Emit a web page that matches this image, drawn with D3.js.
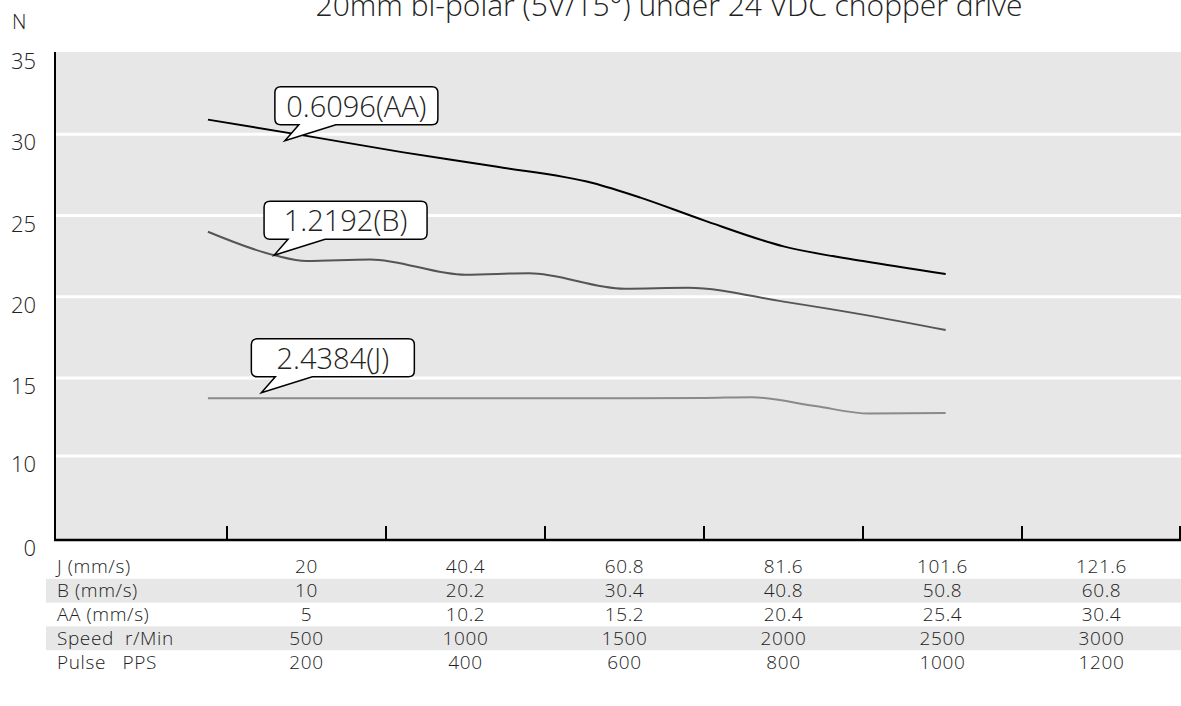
<!DOCTYPE html>
<html>
<head>
<meta charset="utf-8">
<script src="https://cdn.jsdelivr.net/npm/d3@7"></script>
<style>
  body { margin: 0; background: #fff; }
  text { font-family: "Open Sans", "Noto Sans", sans-serif; font-weight: 300; fill: #222; }
</style>
</head>
<body>
<div id="chart"></div>
<script>
const title = "20mm bi-polar (5V/15°) under 24 VDC chopper drive"
const yTicks = [0, 10, 15, 20, 25, 30, 35]

// table under the chart
const speedCols = [500, 1000, 1500, 2000, 2500, 3000]
const rowLabels = ["J (mm/s)", "B (mm/s)", "AA (mm/s)", "Speed  r/Min", "Pulse   PPS"]
const jRow = ["20", "40.4", "60.8", "81.6", "101.6", "121.6"]
const bRow = ["10", "20.2", "30.4", "40.8", "50.8", "60.8"]
const aaRow = ["5", "10.2", "15.2", "20.4", "25.4", "30.4"]
const speedRow = ["500", "1000", "1500", "2000", "2500", "3000"]
const pulseRow = ["200", "400", "600", "800", "1000", "1200"]

// curves (speed r/min -> force N)
const aaSpeed = [190, 500, 800, 1100, 1400, 1550, 1750, 2000, 2250, 2510]
const aaForce = [30.9, 29.9, 28.9, 28.0, 27.0, 26.1, 24.7, 23.1, 22.2, 21.4]
const bSpeed = [190, 400, 500, 700, 1000, 1200, 1500, 1700, 2000, 2250, 2510]
const bForce = [24.0, 22.55, 22.2, 22.3, 21.35, 21.45, 20.5, 20.55, 19.7, 18.9, 17.95]
const jSpeed = [190, 1000, 1500, 1750, 1900, 2100, 2270, 2510]
const jForce = [13.7, 13.7, 13.7, 13.72, 13.77, 13.2, 12.72, 12.76]

const seriesNames = ["0.6096(AA)", "1.2192(B)", "2.4384(J)"]
const seriesColors = ["#000000", "#555555", "#8a8a8a"]
// where each callout tail points (speed, force)
const calloutSpeed = [432, 398, 358]
const calloutForce = [29.6, 22.55, 14.05]

const width = 1181
const height = 706
const margin = { top: 52, bottom: 167, left: 55, right: 0 }

const svg = d3.select("#chart").append("svg").attr("width", width).attr("height", height)

// broken y axis: 0-10 squeezed into one step
const y = d3.scaleLinear().domain([0, 10, 15, 35]).range([540, 456, 378, 53])
const xBand = d3.scaleBand().domain(speedCols).range([227, width])
const x = d3.scaleLinear().domain([500, 3000])
    .range([xBand(500) + xBand.bandwidth() / 2, xBand(3000) + xBand.bandwidth() / 2])

svg.append("rect")
    .attr("x", margin.left).attr("y", margin.top)
    .attr("width", width - margin.left).attr("height", 540 - margin.top)
    .attr("fill", "#e7e7e7")

const grid = svg.append("g").attr("id", "grid")
grid.selectAll("line").data(yTicks.filter(d => d > 0 && d < 35)).enter().append("line")
    .attr("x1", margin.left).attr("x2", width)
    .attr("y1", d => y(d)).attr("y2", d => y(d))
    .attr("stroke", "#fff").attr("stroke-width", 3)

const yLabels = svg.append("g").attr("id", "yLabels")
yLabels.selectAll("text").data(yTicks).enter().append("text")
    .attr("x", 36).attr("y", d => y(d) + 16)
    .attr("text-anchor", "end").attr("font-size", 22)
    .text(d => d)

svg.append("text").attr("x", 12).attr("y", 29).attr("font-size", 20).text("N")
svg.append("text").attr("x", 669).attr("y", 16).attr("text-anchor", "middle")
    .attr("font-size", 30).text(title)

// axes
const axes = svg.append("g").attr("id", "axes")
axes.append("line").attr("x1", margin.left).attr("x2", margin.left)
    .attr("y1", margin.top).attr("y2", 540).attr("stroke", "#000").attr("stroke-width", 2)
axes.append("line").attr("x1", margin.left - 1).attr("x2", width)
    .attr("y1", 540).attr("y2", 540).attr("stroke", "#000").attr("stroke-width", 2.5)
const tickPos = speedCols.map(d => xBand(d)).concat([xBand(3000) + xBand.bandwidth() - 1])
axes.selectAll(".tick").data(tickPos).enter().append("line")
    .attr("class", "tick")
    .attr("x1", d => d).attr("x2", d => d)
    .attr("y1", 540).attr("y2", 526)
    .attr("stroke", "#000").attr("stroke-width", 2)

// curves
const line = d3.line().x(d => x(d[0])).y(d => y(d[1])).curve(d3.curveMonotoneX)
const series = [
    d3.zip(aaSpeed, aaForce),
    d3.zip(bSpeed, bForce),
    d3.zip(jSpeed, jForce)
]
svg.append("g").attr("id", "lines").selectAll("path").data(series).enter().append("path")
    .attr("d", line)
    .attr("fill", "none")
    .attr("stroke", (d, i) => seriesColors[i])
    .attr("stroke-width", 2)

// callouts
const boxW = 163, boxH = 38
const callouts = svg.append("g").attr("id", "callouts")
seriesNames.forEach((name, i) => {
    const tx = x(calloutSpeed[i]), ty = y(calloutForce[i])
    const left = tx - 10, bottom = ty - 16, top = bottom - boxH, right = left + boxW
    const r = 6
    const p = d3.path()
    p.moveTo(left + r, top)
    p.lineTo(right - r, top)
    p.quadraticCurveTo(right, top, right, top + r)
    p.lineTo(right, bottom - r)
    p.quadraticCurveTo(right, bottom, right - r, bottom)
    p.lineTo(left + 61, bottom)
    p.lineTo(tx, ty)
    p.lineTo(left + 24, bottom)
    p.lineTo(left + r, bottom)
    p.quadraticCurveTo(left, bottom, left, bottom - r)
    p.lineTo(left, top + r)
    p.quadraticCurveTo(left, top, left + r, top)
    p.closePath()
    callouts.append("path").attr("d", p.toString())
        .attr("fill", "#fff").attr("stroke", "#000").attr("stroke-width", 1.5)
    callouts.append("text")
        .attr("x", left + boxW / 2).attr("y", top + 30)
        .attr("text-anchor", "middle").attr("font-size", 29)
        .text(name)
})

// table
const rows = [jRow, bRow, aaRow, speedRow, pulseRow]
const rowY = d3.scaleBand().domain(d3.range(rows.length)).range([555, 674])
const table = svg.append("g").attr("id", "table")
table.selectAll("rect").data([1, 3]).enter().append("rect")
    .attr("x", 46).attr("y", d => rowY(d))
    .attr("width", width - 46).attr("height", rowY.bandwidth())
    .attr("fill", "#e7e7e7")
rows.forEach((row, i) => {
    const yy = rowY(i) + rowY.bandwidth() / 2 + 6.5
    table.append("text").attr("x", 57).attr("y", yy)
        .attr("font-size", 19).attr("letter-spacing", 0.6).style("white-space", "pre")
        .text(rowLabels[i])
    table.selectAll(".r" + i).data(row).enter().append("text")
        .attr("class", "r" + i)
        .attr("x", (d, j) => xBand(speedCols[j]) + xBand.bandwidth() / 2)
        .attr("y", yy)
        .attr("text-anchor", "middle").attr("font-size", 19).attr("letter-spacing", 0.6)
        .text(d => d)
})
</script>
</body>
</html>
